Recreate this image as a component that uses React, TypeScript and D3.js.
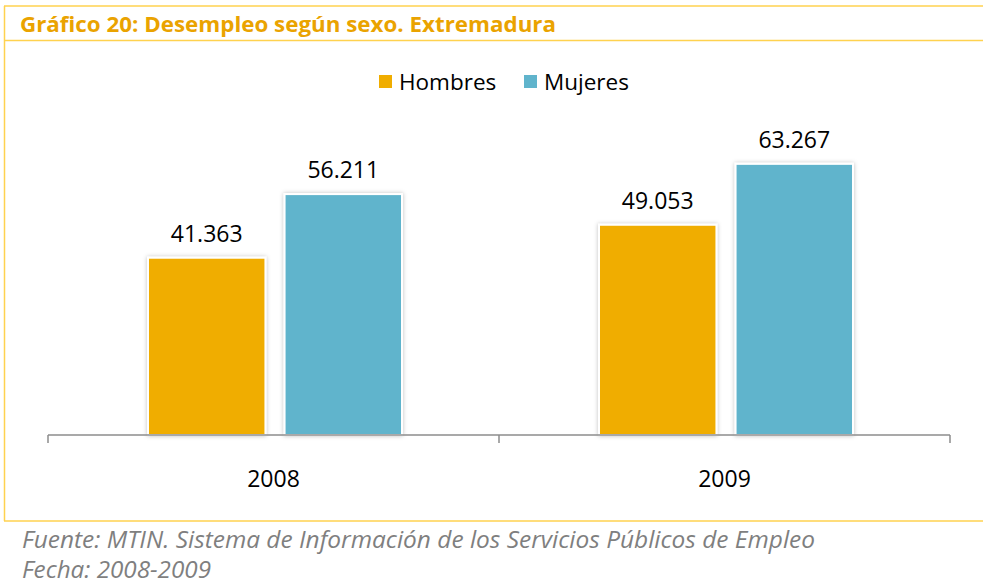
import * as d3 from 'd3';
import React from 'react';

const years = ["2008", "2009"];
const series = ["Hombres", "Mujeres"];
const hombres = [41363, 49053];
const mujeres = [56211, 63267];
const colors = ["#F0AD00", "#60B4CC"];

const fmt = (v: number) => d3.format(",")(v).replace(/,/g, ".");

function App() {
  const width = 983, height = 586;
  const values = [hombres, mujeres];

  // plot area
  const x0 = d3.scaleBand().domain(years).range([48, 950]).paddingInner(0).paddingOuter(0);
  const x1 = d3.scaleBand().domain(series).range([100, 354]).paddingInner(0.14).paddingOuter(0);
  const y = d3.scaleLinear().domain([0, 70000]).range([435, 135]);

  const ticks = [...years.map(d => x0(d)!), x0.range()[1]];

  return (
    <svg width={width} height={height} style={{ position: 'absolute', left: 0, top: 0, background: '#fff' }}
      fontFamily="'Open Sans', sans-serif">
      <defs>
        <filter id="sh" x="-10%" y="-10%" width="120%" height="120%">
          <feDropShadow dx="0" dy="0" stdDeviation="2" floodColor="#000" floodOpacity="0.25" />
        </filter>
      </defs>
      {/* frame lines */}
      <line x1={4} x2={983} y1={6} y2={6} stroke="#FFD24F" strokeWidth={1.5} />
      <line x1={4} x2={983} y1={40.5} y2={40.5} stroke="#FFD24F" strokeWidth={1.5} />
      <line x1={4} x2={983} y1={521} y2={521} stroke="#FFD24F" strokeWidth={1.5} />
      <line x1={4.5} x2={4.5} y1={6} y2={521} stroke="#FFD24F" strokeWidth={1.5} />

      <text x={20} y={32} fontSize={21} fontWeight="bold" fill="#EAA300"
        textLength={536} lengthAdjust="spacingAndGlyphs">Gráfico 20: Desempleo según sexo. Extremadura</text>

      {/* legend */}
      {series.map((s, i) => {
        const lx = [379, 524][i];
        return (
          <g key={s}>
            <rect x={lx} y={75} width={13} height={13} fill={colors[i]} />
            <text x={lx + 20} y={90} fontSize={22.5} fill="#000">{s}</text>
          </g>
        );
      })}

      {/* bars */}
      {years.map((yr, j) => (
        <g key={yr} transform={`translate(${x0(yr)!},0)`}>
          {series.map((s, i) => {
            const v = values[i][j];
            const bx = x1(s)!;
            const bw = x1.bandwidth();
            return (
              <g key={s}>
                <rect x={bx} y={y(v)} width={bw} height={y(0) - y(v)} fill={colors[i]}
                  stroke="#fff" strokeWidth={2} filter="url(#sh)" />
                <text x={bx + bw / 2} y={y(v) - 16} textAnchor="middle" fontSize={23} fill="#000">{fmt(v)}</text>
              </g>
            );
          })}
        </g>
      ))}

      {/* axis */}
      <line x1={x0.range()[0]} x2={x0.range()[1]} y1={y(0)} y2={y(0)} stroke="#8C8C8C" strokeWidth={1.5} />
      {ticks.map((t, i) => (
        <line key={i} x1={t} x2={t} y1={y(0)} y2={y(0) + 8} stroke="#8C8C8C" strokeWidth={1.5} />
      ))}
      {years.map(yr => (
        <text key={yr} x={x0(yr)! + x0.bandwidth() / 2} y={487} textAnchor="middle" fontSize={23} fill="#000">{yr}</text>
      ))}

      {/* footer */}
      <text x={22} y={548} fontSize={23} fontStyle="italic" fill="#7F7F7F"
        textLength={793} lengthAdjust="spacingAndGlyphs">Fuente: MTIN. Sistema de Información de los Servicios Públicos de Empleo</text>
      <text x={22} y={578} fontSize={23} fontStyle="italic" fill="#7F7F7F"
        textLength={189} lengthAdjust="spacingAndGlyphs">Fecha: 2008-2009</text>
    </svg>
  );
}

export default App;
